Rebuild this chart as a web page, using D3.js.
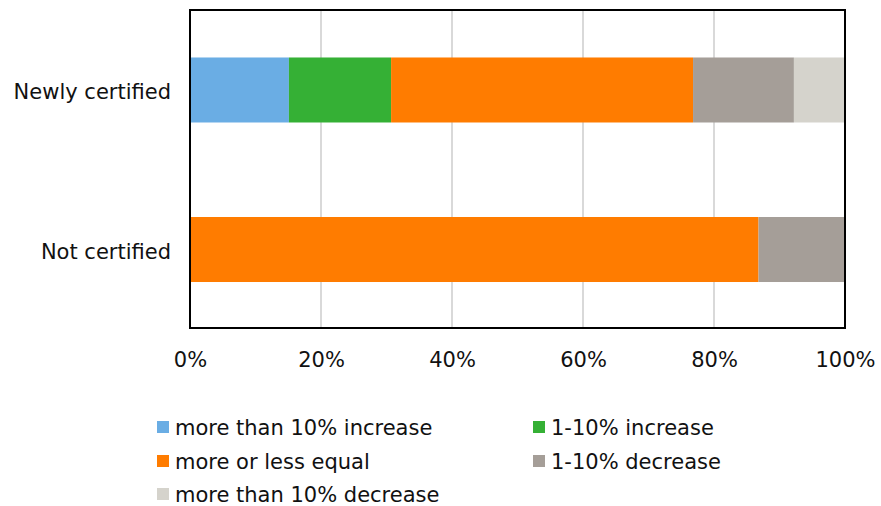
<!DOCTYPE html>
<html><head><meta charset="utf-8">
<script src="https://cdn.jsdelivr.net/npm/d3@7"></script>
<style>body{margin:0;background:#fff}svg{display:block}text{font-family:"DejaVu Sans",Verdana,sans-serif;fill:#111}</style>
</head><body><svg id="c" width="881" height="506"></svg>
<script>
const categories = ["Newly certified", "Not certified"];
const seriesNames = ["more than 10% increase", "1-10% increase", "more or less equal", "1-10% decrease", "more than 10% decrease"];
const moreThan10Increase = [15.1, 0];
const increase1to10 = [15.6, 0];
const moreOrLessEqual = [46.1, 86.8];
const decrease1to10 = [15.4, 13.2];
const moreThan10Decrease = [7.8, 0];
const colors = ["#6AADE4", "#35B035", "#FF7C00", "#A59E98", "#D5D3CC"];
const tickValues = [0, 20, 40, 60, 80, 100];

const seriesValues = [moreThan10Increase, increase1to10, moreOrLessEqual, decrease1to10, moreThan10Decrease];
const rows = categories.map((c, i) => {
  const o = {cat: c};
  seriesNames.forEach((s, j) => o[s] = seriesValues[j][i]);
  return o;
});
const stacked = d3.stack().keys(seriesNames)(rows);

const svg = d3.select("#c");
const L = 190, R = 845, T = 10, B = 328;
const FS = "21px";
const x = d3.scaleLinear().domain([0, 100]).range([L, R]);
const y = d3.scaleBand().domain(categories).range([T, B]).paddingInner(0.5925).paddingOuter(0.293).align(0.508);

// gridlines
svg.append("g").selectAll("line").data(tickValues.slice(1, -1)).join("line")
  .attr("x1", d => x(d)).attr("x2", d => x(d)).attr("y1", T).attr("y2", B)
  .attr("stroke", "#D9D9D9").attr("stroke-width", 2);

// bars
svg.append("g").selectAll("g").data(stacked).join("g")
  .attr("fill", (d, i) => colors[i])
  .selectAll("rect").data(d => d).join("rect")
  .attr("x", d => x(d[0])).attr("width", d => x(d[1]) - x(d[0]))
  .attr("y", d => y(d.data.cat)).attr("height", y.bandwidth());

// frame
svg.append("rect").attr("x", L).attr("y", T).attr("width", R - L).attr("height", B - T)
  .attr("fill", "none").attr("stroke", "#000").attr("stroke-width", 2);

// x axis
const xa = svg.append("g").attr("transform", `translate(0,${B})`)
  .call(d3.axisBottom(x).tickValues(tickValues).tickFormat(d => d + "%").tickSize(0));
xa.select(".domain").remove();
xa.selectAll("text").attr("y", 39).attr("dy", 0).style("font-size", FS).attr("font-family", null);

// y axis
const ya = svg.append("g").attr("transform", `translate(${L},0)`)
  .call(d3.axisLeft(y).tickSize(0).tickPadding(19));
ya.select(".domain").remove();
ya.selectAll("text").attr("dy", "0.44em").style("font-size", FS).attr("font-family", null);

// legend
const legPos = [[157, 427], [533, 427], [157, 461], [533, 461], [157, 494]];
const lg = svg.append("g").selectAll("g").data(seriesNames).join("g")
  .attr("transform", (d, i) => `translate(${legPos[i][0]},${legPos[i][1]})`);
lg.append("rect").attr("x", 0).attr("y", -6).attr("width", 12).attr("height", 12).attr("fill", (d, i) => colors[i]);
lg.append("text").attr("x", 18).attr("dy", "0.37em").style("font-size", FS).text(d => d);
</script></body></html>
